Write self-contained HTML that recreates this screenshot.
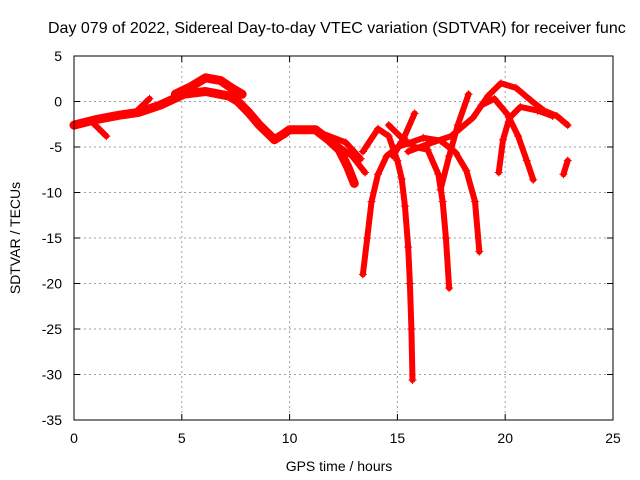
<!DOCTYPE html>
<html><head><meta charset="utf-8"><style>
body{margin:0;background:#fff}
svg{display:block;font-family:"Liberation Sans",sans-serif}
</style></head><body>
<svg id="chart" width="640" height="480" viewBox="0 0 640 480">
<rect width="640" height="480" fill="#fff"/>
<text x="48" y="33" font-size="16" fill="#000">Day 079 of 2022, Sidereal Day-to-day VTEC variation (SDTVAR) for receiver func</text>
<text x="339" y="471" font-size="14" text-anchor="middle">GPS time / hours</text>
<text transform="translate(20,238) rotate(-90)" font-size="14" text-anchor="middle">SDTVAR / TECUs</text>
<g id="grid"></g><g id="ticks"></g><g id="series"></g>
<rect x="74" y="56" width="539" height="364" fill="none" stroke="#000" stroke-width="1"/>
</svg>
<script>
const xTicks=[0,5,10,15,20,25];
const yTicks=[5,0,-5,-10,-15,-20,-25,-30,-35];
const trackMain=[[0,-2.6],[1,-2],[2.1,-1.5],[3,-1.2],[4,-0.4],[5.1,0.8],[6.1,1.1],[7.2,0.6],[7.6,0],[8.1,-1.2],[8.6,-2.6],[9.3,-4.2],[9.7,-3.6],[10,-3.1],[11.2,-3.1],[11.8,-4.2],[12.3,-5.3],[12.7,-7.2],[13,-9]];
const trackUpper=[[4.7,0.8],[5.4,1.6],[6.1,2.6],[6.8,2.3],[7.3,1.5],[7.8,0.8]];
const trackSmall=[[0.9,-2.4],[1.5,-3.8]];
const trackBranch=[[2.8,-1.3],[3.5,0.3]];
const arcA=[[13.4,-19],[13.6,-15],[13.8,-11],[14.1,-8],[14.5,-6],[15,-5],[15.5,-4.6],[16.2,-4],[17,-4.3],[17.7,-5.6],[18.2,-7.6],[18.6,-11],[18.8,-16.5]];
const arcB=[[13.4,-5.5],[14.1,-3],[14.6,-3.8],[15,-6.5],[15.2,-8.5],[15.35,-11.5],[15.5,-16],[15.58,-20],[15.65,-25],[15.7,-30.6]];
const arcC=[[14.6,-2.6],[15.2,-4],[15.8,-5],[16.4,-5.3],[16.9,-8],[17.1,-11],[17.25,-15],[17.4,-20.5]];
const arcD=[[17,-9.7],[17.4,-6],[17.8,-2.6],[18.3,0.8]];
const arcE=[[15.5,-5.5],[16.5,-4.6],[17.5,-3.8],[18.5,-1.8],[19.2,0.6],[19.8,2],[20.5,1.5],[21.2,0.1],[21.8,-1],[22.4,-1.6],[22.9,-2.6]];
const arcF=[[19.7,-7.8],[19.9,-4.2],[20.2,-1.8],[20.7,-0.6],[21.5,-1],[22.2,-1.6]];
const arcG=[[18.9,-0.4],[19.5,0.3],[20.1,-1.4],[20.6,-3.8],[21,-6.5],[21.3,-8.6]];
const arcH=[[22.7,-8],[22.9,-6.5]];
const arcI=[[12.2,-4.8],[12.9,-6],[13.5,-7.8]];
const arcJ=[[14.8,-6],[15.3,-4],[15.8,-1.3]];
const arcK=[[11.5,-3.5],[12.6,-4.5],[13.3,-6.3]];
const tracks=[trackMain,trackUpper,trackSmall,trackBranch,arcA,arcB,arcC,arcD,arcE,arcF,arcG,arcH,arcI,arcJ,arcK];

const X0=74,X1=613,Y0=420,Y1=56,XMIN=0,XMAX=25,YMIN=-35,YMAX=5;
const sx=v=>X0+(v-XMIN)/(XMAX-XMIN)*(X1-X0);
const sy=v=>Y0-(v-YMIN)/(YMAX-YMIN)*(Y0-Y1);
const NS="http://www.w3.org/2000/svg";
const mk=(t,a,p)=>{const e=document.createElementNS(NS,t);for(const k in a)e.setAttribute(k,a[k]);p.appendChild(e);return e;};
const grid=document.getElementById('grid'),ticks=document.getElementById('ticks'),ser=document.getElementById('series');
xTicks.forEach(v=>{const x=sx(v);
 if(v>XMIN&&v<XMAX){const g=mk('line',{x1:x,x2:x,y1:Y1,y2:Y0,stroke:'#a0a0a0','stroke-dasharray':'2,3'},grid);
 
 }
 mk('line',{x1:x,x2:x,y1:Y0,y2:Y0-6,stroke:'#000'},ticks);mk('line',{x1:x,x2:x,y1:Y1,y2:Y1+6,stroke:'#000'},ticks);
 const t=mk('text',{x:x,y:443,'font-size':14,'text-anchor':'middle'},ticks);t.textContent=v;
 
 });
yTicks.forEach(v=>{const y=sy(v);
 if(v>YMIN&&v<YMAX){const g=mk('line',{x1:X0,x2:X1,y1:y,y2:y,stroke:'#a0a0a0','stroke-dasharray':'2,3'},grid);
 
 }
 mk('line',{x1:X0,x2:X0+6,y1:y,y2:y,stroke:'#000'},ticks);mk('line',{x1:X1,x2:X1-6,y1:y,y2:y,stroke:'#000'},ticks);
 const t=mk('text',{x:62,y:y+5,'font-size':14,'text-anchor':'end'},ticks);t.textContent=v;
 
 });
tracks.forEach((tr,i)=>{
 const p=mk('polyline',{points:tr.map(d=>sx(d[0])+','+sy(d[1])).join(' '),fill:'none',stroke:'#ff0000','stroke-width':i<2?9:6,'stroke-linejoin':'round','stroke-linecap':'round'},ser);
 
 
 tr.forEach(d=>{const x=sx(d[0]),y=sy(d[1]);
  const m=mk('path',{d:`M${x-4},${y}H${x+4}M${x},${y-4}V${y+4}`,stroke:'#ff0000','stroke-width':1},ser);
  
  });
});
</script>
</body></html>
